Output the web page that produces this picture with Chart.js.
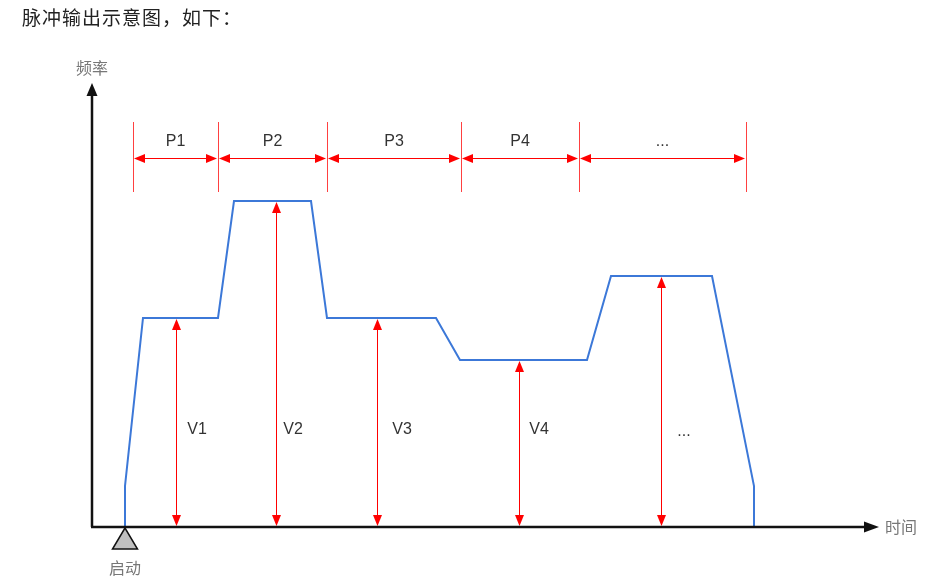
<!DOCTYPE html>
<html>
<head>
<meta charset="utf-8">
<script src="https://cdn.jsdelivr.net/npm/chart.js@4/dist/chart.umd.min.js"></script>
<style>
  html, body { margin: 0; padding: 0; background: #fff; }
  canvas { display: block; }
</style>
</head>
<body>
<canvas id="pulseChart" width="938" height="579"></canvas>
<script>
// pulse profile (time, frequency)
const pulseTime = [33, 33, 51, 126, 142, 219, 235, 344, 368, 495, 519, 620, 662, 662];
const pulseFreq = [0, 41, 209, 209, 326, 326, 209, 209, 167, 167, 251, 251, 41, 0];

// speed markers
const speedLabels = ['V1', 'V2', 'V3', 'V4', '...'];
const speedTime = [84, 184, 285, 427, 569];
const speedFreq = [209, 326, 209, 167, 251];

// period markers
const periodLabels = ['P1', 'P2', 'P3', 'P4', '...'];
const periodEdges = [41, 126, 235, 369, 487, 654];

const titleText = '脉冲输出示意图，如下：';
const yAxisLabel = '频率';
const xAxisLabel = '时间';
const startLabel = '启动';

const RED = '#ff0000';
const cjk = '"Noto Sans CJK SC", sans-serif';
const latin = '"Liberation Sans", Arial, sans-serif';

function arrowHead(ctx, x, y, dir, len, half) {
    // tip at x,y
    ctx.beginPath();
    ctx.moveTo(x, y);
    if (dir === 'up') { ctx.lineTo(x - half, y + len); ctx.lineTo(x + half, y + len); }
    if (dir === 'down') { ctx.lineTo(x - half, y - len); ctx.lineTo(x + half, y - len); }
    if (dir === 'left') { ctx.lineTo(x + len, y - half); ctx.lineTo(x + len, y + half); }
    if (dir === 'right') { ctx.lineTo(x - len, y - half); ctx.lineTo(x - len, y + half); }
    ctx.closePath();
    ctx.fill();
}

const diagramPlugin = {
    id: 'diagram',
    afterDatasetsDraw(chart) {
        const ctx = chart.ctx;
        const xs = chart.scales.x;
        const ys = chart.scales.y;
        const area = chart.chartArea;
        const x0 = xs.getPixelForValue(0);
        const y0 = ys.getPixelForValue(0);
        ctx.save();

        // speed arrows
        ctx.strokeStyle = RED;
        ctx.fillStyle = RED;
        ctx.lineWidth = 1;
        speedTime.forEach((t, i) => {
            const px = Math.round(xs.getPixelForValue(t)) + 0.5;
            const top = ys.getPixelForValue(speedFreq[i]);
            ctx.beginPath();
            ctx.moveTo(px, top + 8);
            ctx.lineTo(px, y0 - 8);
            ctx.stroke();
            arrowHead(ctx, px, top + 1, 'up', 11, 4.5);
            arrowHead(ctx, px, y0 - 1, 'down', 11, 4.5);
        });

        // period row
        const rowY = Math.round(ys.getPixelForValue(369)) + 0.5;
        const tickTop = ys.getPixelForValue(405);
        const tickBot = ys.getPixelForValue(335);
        periodEdges.forEach(e => {
            const px = Math.round(xs.getPixelForValue(e)) + 0.5;
            ctx.strokeStyle = 'rgba(255,0,0,0.75)';
            ctx.beginPath();
            ctx.moveTo(px, tickTop);
            ctx.lineTo(px, tickBot);
            ctx.stroke();
        });
        ctx.strokeStyle = RED;
        for (let i = 0; i < periodEdges.length - 1; i++) {
            const a = xs.getPixelForValue(periodEdges[i]) + 1;
            const b = xs.getPixelForValue(periodEdges[i + 1]) - 1;
            ctx.beginPath();
            ctx.moveTo(a + 8, rowY);
            ctx.lineTo(b - 8, rowY);
            ctx.stroke();
            arrowHead(ctx, a, rowY, 'left', 11, 4.5);
            arrowHead(ctx, b, rowY, 'right', 11, 4.5);
        }

        // labels
        ctx.fillStyle = '#333';
        ctx.font = '16px ' + latin;
        ctx.textAlign = 'center';
        ctx.textBaseline = 'middle';
        periodLabels.forEach((lab, i) => {
            const mid = (xs.getPixelForValue(periodEdges[i]) + xs.getPixelForValue(periodEdges[i + 1])) / 2;
            ctx.fillText(lab, mid, ys.getPixelForValue(385));
        });
        const vOffset = [21, 17, 25, 20, 23];
        speedLabels.forEach((lab, i) => {
            ctx.fillText(lab, xs.getPixelForValue(speedTime[i]) + vOffset[i], ys.getPixelForValue(i === 4 ? 95 : 97));
        });

        // axes
        ctx.strokeStyle = '#111';
        ctx.fillStyle = '#111';
        ctx.lineWidth = 2.5;
        ctx.beginPath();
        ctx.moveTo(x0, y0);
        ctx.lineTo(x0, area.top + 10);
        ctx.moveTo(x0 - 1, y0);
        ctx.lineTo(area.right - 12, y0);
        ctx.stroke();
        arrowHead(ctx, x0, area.top - 1, 'up', 13, 5.5);
        arrowHead(ctx, area.right + 2, y0, 'right', 15, 5.5);

        // start marker
        const sx = xs.getPixelForValue(pulseTime[0]);
        ctx.fillStyle = '#c0c0c0';
        ctx.strokeStyle = '#111';
        ctx.lineWidth = 1.5;
        ctx.beginPath();
        ctx.moveTo(sx, y0 + 1);
        ctx.lineTo(sx - 12.5, y0 + 22);
        ctx.lineTo(sx + 12.5, y0 + 22);
        ctx.closePath();
        ctx.fill();
        ctx.stroke();

        // texts
        ctx.fillStyle = '#777';
        ctx.font = '16px ' + cjk;
        ctx.textAlign = 'center';
        ctx.fillText(startLabel, sx, y0 + 41);
        ctx.fillText(yAxisLabel, x0, area.top - 16);
        ctx.textAlign = 'left';
        ctx.fillText(xAxisLabel, area.right + 8, y0);
        ctx.fillStyle = '#222';
        ctx.font = '19px ' + cjk;
        ctx.letterSpacing = '1px';
        ctx.fillText(titleText, 22, 18);
        ctx.restore();
    }
};

new Chart(document.getElementById('pulseChart'), {
    type: 'scatter',
    data: {
        datasets: [{
            data: pulseTime.map((t, i) => ({ x: t, y: pulseFreq[i] })),
            showLine: true,
            borderColor: '#3c78d8',
            borderWidth: 2,
            pointRadius: 0,
            tension: 0
        }]
    },
    options: {
        responsive: false,
        animation: false,
        layout: { padding: { left: 92, top: 84, right: 61, bottom: 52 } },
        plugins: { legend: { display: false }, tooltip: { enabled: false } },
        scales: {
            x: { type: 'linear', min: 0, max: 785, display: false },
            y: { type: 'linear', min: 0, max: 443, display: false }
        }
    },
    plugins: [diagramPlugin]
});
</script>
</body>
</html>
